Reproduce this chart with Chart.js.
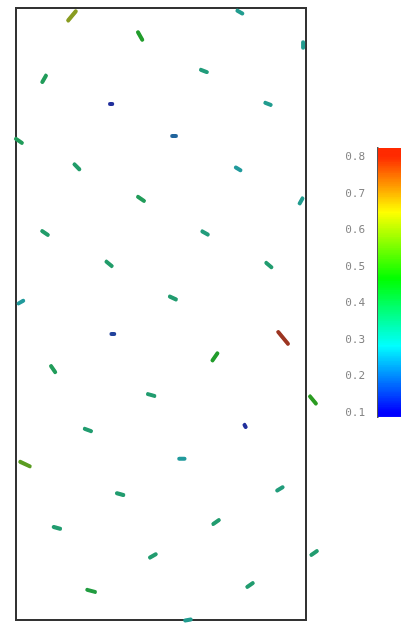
<!DOCTYPE html>
<html>
<head>
<meta charset="utf-8">
<script src="https://cdn.jsdelivr.net/npm/chart.js@4/dist/chart.umd.min.js"></script>
<style>
  html, body { margin: 0; padding: 0; background: #fff; }
  #wrap { position: relative; width: 403px; height: 623px; }
  #field { position: absolute; left: 0; top: 0; width: 320px; height: 623px; }
  #bar { position: absolute; left: 320px; top: 0; width: 83px; height: 623px; }
</style>
</head>
<body>
<div id="wrap">
  <div id="field"><canvas id="chartField"></canvas></div>
  <div id="bar"><canvas id="chartBar"></canvas></div>
</div>
<script>
/* ===== Vector field (speed coloured) ===== */

// particle positions (domain units, x 0..1, y 0..2.1)
const posX = [0.193, 0.428, 0.772, 0.990, 0.097, 0.328, 0.648, 0.869, 0.545, 0.010,
  0.210, 0.766, 0.431, 0.983, 0.100, 0.652, 0.321, 0.872, 0.017, 0.541,
  0.334, 0.128, 0.686, 0.921, 0.466, 1.024, 0.790, 0.248, 0.031, 0.572,
  0.359, 0.910, 0.141, 0.690, 0.472, 1.028, 0.259, 0.807, 0.593];
const posY = [2.073, 2.004, 2.086, 1.973, 1.857, 1.771, 1.884, 1.771, 1.661, 1.644,
  1.555, 1.548, 1.445, 1.438, 1.328, 1.328, 1.222, 1.218, 1.091, 1.105,
  0.981, 0.861, 0.903, 0.968, 0.772, 0.755, 0.666, 0.652, 0.535, 0.553,
  0.432, 0.450, 0.316, 0.336, 0.220, 0.230, 0.100, 0.120, 0.000];
// speed magnitude and direction (degrees, counter-clockwise from +x)
const speed = [0.62, 0.45, 0.30, 0.30, 0.38, 0.12, 0.33, 0.30, 0.20, 0.38,
  0.36, 0.28, 0.38, 0.30, 0.36, 0.33, 0.36, 0.35, 0.28, 0.35,
  0.15, 0.38, 0.45, 0.80, 0.35, 0.48, 0.12, 0.35, 0.55, 0.28,
  0.35, 0.33, 0.35, 0.35, 0.35, 0.35, 0.42, 0.35, 0.30];
const direction = [50, -60, -30, 90, 60, 0, -20, -20, 0, -35,
  -45, -30, -35, 60, -35, -30, -40, -40, 30, -25,
  0, -55, 55, -50, -15, -50, -60, -20, -25, 0,
  -15, 30, -15, 35, 30, 35, -15, 35, 10];

// colour bar
const barMin = 0.1;
const barMax = 0.8;
const barTicks = [0.1, 0.2, 0.3, 0.4, 0.5, 0.6, 0.7, 0.8];

const ARROW_SCALE = 0.065;

function hueFor(v) {
  const t = Math.min(1, Math.max(0, (v - barMin) / (barMax - barMin)));
  return 10 + 230 * (1 - t);
}

function segColor(v) {
  return `hsl(${hueFor(v).toFixed(0)}, 65%, 37%)`;
}

function barColor(v) {
  return `hsl(${hueFor(v).toFixed(0)}, 100%, 50%)`;
}

const segments = posX.map((x, i) => {
  const a = direction[i] * Math.PI / 180;
  const half = ARROW_SCALE * speed[i] / 2;
  const dx = half * Math.cos(a);
  const dy = half * Math.sin(a);
  return {
    type: 'line',
    data: [{ x: x - dx, y: posY[i] - dy }, { x: x + dx, y: posY[i] + dy }],
    borderColor: segColor(speed[i]),
    borderWidth: 4,
    borderCapStyle: 'round',
    pointRadius: 0,
    showLine: true,
    clip: false
  };
});

const frameAxis = (pos, min, max) => ({
  type: 'linear',
  position: pos,
  min, max,
  display: true,
  grid: { display: false, drawTicks: false },
  ticks: { display: false },
  border: { display: true, color: '#333', width: 2 }
});

new Chart(document.getElementById('chartField'), {
  type: 'scatter',
  data: { datasets: segments },
  options: {
    responsive: true,
    maintainAspectRatio: false,
    animation: false,
    layout: { padding: { left: 16, right: 14, top: 8, bottom: 3 } },
    plugins: { legend: { display: false }, tooltip: { enabled: false } },
    scales: {
      x: frameAxis('bottom', 0, 1),
      x2: frameAxis('top', 0, 1),
      y: frameAxis('left', 0, 2.1),
      y2: frameAxis('right', 0, 2.1)
    }
  }
});

// colour bar as stacked floating bars
const steps = [];
for (let v = barMin - 0.01; v < barMax + 0.025; v += 0.005) steps.push(+v.toFixed(3));
const barSets = steps.map(v => ({
  data: [[v, v + 0.0055]],
  backgroundColor: barColor(v + 0.0025),
  borderWidth: 0,
  grouped: false,
  barPercentage: 1,
  categoryPercentage: 1
}));

new Chart(document.getElementById('chartBar'), {
  type: 'bar',
  data: { labels: [''], datasets: barSets },
  options: {
    responsive: true,
    maintainAspectRatio: false,
    animation: false,
    layout: { padding: { left: 0, right: 2, top: 148, bottom: 206 } },
    plugins: { legend: { display: false }, tooltip: { enabled: false } },
    scales: {
      x: { display: false },
      y: {
        min: 0.089,
        max: 0.825,
        afterBuildTicks: s => { s.ticks = barTicks.map(v => ({ value: v })); },
        afterFit: s => { s.width = 58; },
        grid: { display: false, drawTicks: false },
        border: { display: true, color: '#555', width: 1.5, dash: [1, 2] },
        ticks: {
          color: '#888',
          padding: 13,
          font: { family: 'DejaVu Sans Mono', size: 11 },
          callback: v => v.toFixed(1)
        }
      }
    }
  }
});
</script>
</body>
</html>
